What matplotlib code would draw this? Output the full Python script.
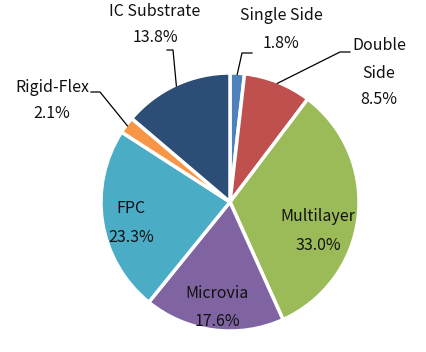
import numpy as np
import matplotlib
matplotlib.use('Agg')
from matplotlib import pyplot as plt

# 数据
labels = ['Single Side', 'Double Side', 'Multilayer', 'Microvia', 'FPC', 'Rigid-Flex', 'IC Substrate']
values = [1.8, 8.5, 33.0, 17.6, 23.3, 2.1, 13.8]
colors = ['#4F81BD', '#C0504D', '#9BBB59', '#8064A2', '#4BACC6', '#F79646', '#2C4D75']

plt.rcParams['font.family'] = ['Noto Sans CJK TC', 'DejaVu Sans']

W, H = 427, 352
fig = plt.figure(figsize=(W / 100, H / 100), dpi=100)
ax = fig.add_axes([0, 0, 1, 1])

cx, cy, r = 230, H - 202, 129
explode = [0.03] * len(values)
wedges, _ = ax.pie(values, colors=colors, startangle=90, counterclock=False,
                   explode=explode, center=(cx, cy), radius=r,
                   wedgeprops=dict(edgecolor='white', linewidth=2.5))
ax.set_xlim(0, W)
ax.set_ylim(0, H)
ax.set_aspect('equal')
ax.axis('off')

def px(x, y):
    # 像素坐标（左上为原点）转为数据坐标
    return x, H - y

def edge_point(i, frac=1.0):
    w = wedges[i]
    ang = np.deg2rad((w.theta1 + w.theta2) / 2)
    c = w.center
    return c[0] + r * frac * np.cos(ang), c[1] + r * frac * np.sin(ang)

fs = 11.5
tc = '#111111'

def put(text, x, y):
    ax.text(*px(x, y), text, ha='center', va='center', fontsize=fs, color=tc)

# 外部标签
put('IC Substrate', 155, 12)
put('13.8%', 155, 38)
put('Single Side', 281, 16)
put('1.8%', 281, 43)
put('Double', 379, 46)
put('Side', 379, 73)
put('8.5%', 379, 100)
put('Rigid-Flex', 52, 87)
put('2.1%', 52, 114)

# 内部标签
put('FPC', 131, 209)
put('23.3%', 131, 237)
put('Multilayer', 318, 217)
put('33.0%', 318, 245)
put('Microvia', 217, 293)
put('17.6%', 217, 321)

# 引线
def leader(i, bend, end, frac=0.99):
    x0, y0 = edge_point(i, frac)
    bx, by = px(*bend)
    ex, ey = px(*end)
    ax.plot([x0, bx, ex], [y0, by, ey], color='black', lw=0.9)

leader(0, (242, 53), (252, 53))
leader(1, (340, 52), (350, 52))
leader(5, (100, 92), (91, 92))
leader(6, (173, 50), (167, 50))

fig.savefig('out.png', dpi=100, facecolor='white')
